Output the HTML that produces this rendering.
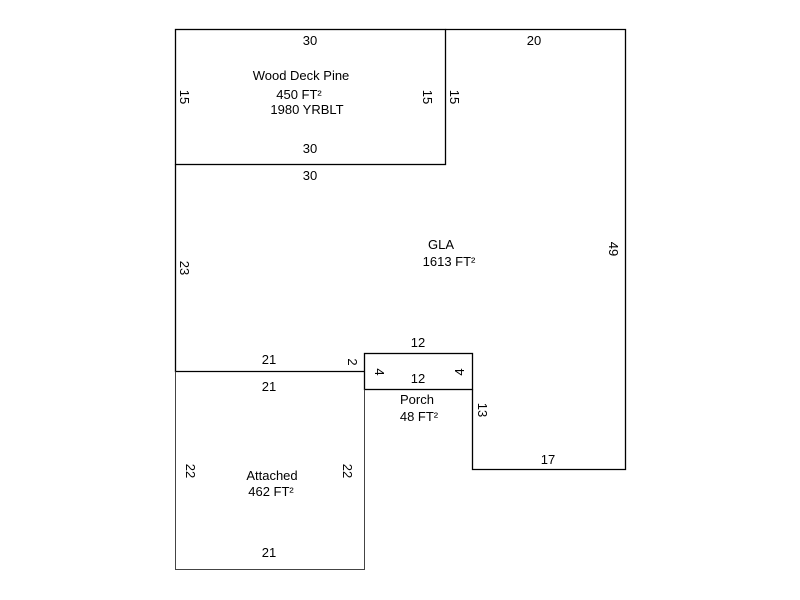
<!DOCTYPE html>
<html><head><style>html,body{margin:0;padding:0;background:#fff;}svg{display:block;}</style></head>
<body>
<svg width="800" height="600" viewBox="0 0 800 600" xmlns="http://www.w3.org/2000/svg" font-family="Liberation Sans, sans-serif" font-size="13" fill="#000">
<g stroke="#000" stroke-width="1.3" fill="none">
<rect x="175.5" y="29.5" width="270" height="135"/>
<polyline points="445.5,29.5 625.5,29.5 625.5,469.5 472.5,469.5 472.5,389.5"/>
<polyline points="175.5,164.5 175.5,371.5 364.5,371.5"/>
<rect x="364.5" y="353.5" width="108" height="36"/>
</g>
<g stroke="#444" stroke-width="1" fill="none">
<polyline points="175.5,371.5 175.5,569.5 364.5,569.5 364.5,389.5"/>
</g>
<g text-anchor="middle">
<text x="310" y="45">30</text>
<text x="534" y="45">20</text>
<text x="301" y="80">Wood Deck Pine</text>
<text x="299" y="99">450 FT²</text>
<text x="307" y="114">1980 YRBLT</text>
<text x="310" y="153">30</text>
<text x="310" y="180">30</text>
<text x="441" y="249">GLA</text>
<text x="449" y="266">1613 FT²</text>
<text x="269" y="364">21</text>
<text x="269" y="391">21</text>
<text x="418" y="347">12</text>
<text x="418" y="383">12</text>
<text x="417" y="404">Porch</text>
<text x="419" y="421">48 FT²</text>
<text x="548" y="464">17</text>
<text x="272" y="480">Attached</text>
<text x="271" y="496">462 FT²</text>
<text x="269" y="557">21</text>
<text transform="translate(180,97) rotate(90)">15</text>
<text transform="translate(423,97) rotate(90)">15</text>
<text transform="translate(450,97) rotate(90)">15</text>
<text transform="translate(180,268) rotate(90)">23</text>
<text transform="translate(609,249) rotate(90)">49</text>
<text transform="translate(348,362) rotate(90)">2</text>
<text transform="translate(375,372) rotate(90)">4</text>
<text transform="translate(464,372) rotate(-90)">4</text>
<text transform="translate(478,410) rotate(90)">13</text>
<text transform="translate(186,471) rotate(90)">22</text>
<text transform="translate(343,471) rotate(90)">22</text>
</g>
</svg>
</body></html>
